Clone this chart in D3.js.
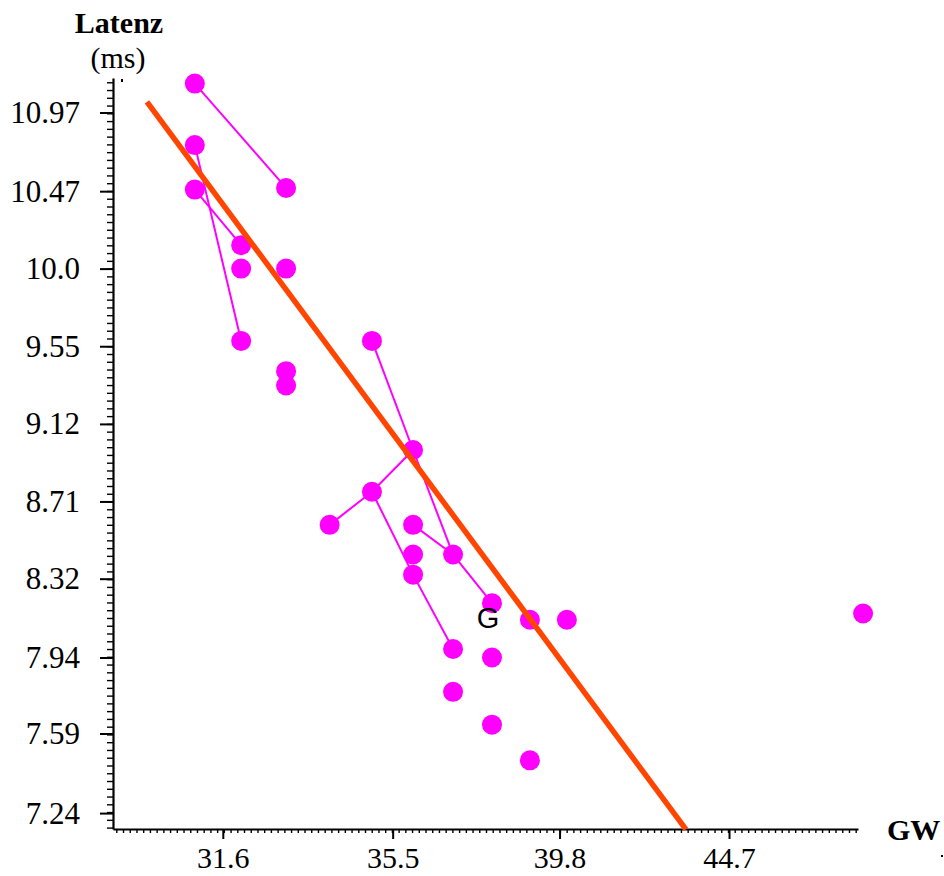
<!DOCTYPE html>
<html>
<head>
<meta charset="utf-8">
<script src="https://cdn.jsdelivr.net/npm/d3@7"></script>
<style>
  body { margin: 0; background: #fff; }
  svg { display: block; }
  .tick text { font-family: "Liberation Serif", "Times New Roman", serif; font-size: 31px; fill: #000; }
  .x-axis .tick text { font-size: 30px; }
</style>
</head>
<body>
<div id="main"></div>
<script>
// measured values: GW (x) and latency in ms (y)
var gw = [31, 31, 31, 33, 32, 32, 33, 32, 33, 33, 35, 36, 35, 34, 36, 36, 37, 36, 38, 39, 40, 49, 37, 38, 37, 38, 39];
var latenz = [11.16, 10.76, 10.48, 10.49, 10.14, 10.0, 10.0, 9.58, 9.41, 9.33, 9.58, 8.98, 8.76, 8.59, 8.59, 8.44, 8.44, 8.34, 8.20, 8.12, 8.12, 8.15, 7.98, 7.94, 7.78, 7.63, 7.47];
// pairs of point indices joined by a thin line
var links = [[0, 3], [1, 7], [2, 4], [10, 11], [11, 16], [13, 12], [12, 11], [12, 17], [17, 22], [14, 16], [16, 18]];
// regression line end points
var fitGW = [30, 43.4];
var fitLatenz = [11.04, 7.17];
var xTickLabels = ["31.6", "35.5", "39.8", "44.7"];
var yTickLabels = ["10.97", "10.47", "10.0", "9.55", "9.12", "8.71", "8.32", "7.94", "7.59", "7.24"];
var noteText = ["G"], noteGW = [37.9], noteLatenz = [8.08];

var W = 944, H = 876;
var margin = {top: 78, right: 86, bottom: 47, left: 113};

var svg = d3.select("#main").append("svg")
    .attr("width", W)
    .attr("height", H);

var x = d3.scaleLog().domain([29.31, 48.83]).range([margin.left, W - margin.right]);
var y = d3.scaleLog().domain([7.172, 11.197]).range([H - margin.bottom, margin.top]);

function minorTicks(scale, step) {
    var d = scale.domain().map(Math.log10);
    var lo = Math.ceil(d[0] / step - 1e-9), hi = Math.floor(d[1] / step + 1e-9);
    return d3.range(lo, hi + 1).map(k => Math.pow(10, k * step));
}

// minor ticks
svg.append("g")
    .attr("transform", "translate(0," + y.range()[0] + ")")
    .call(d3.axisBottom(x).tickValues(minorTicks(x, 0.002)).tickFormat("").tickSize(4).tickSizeOuter(0))
    .call(g => g.select(".domain").remove())
    .selectAll("line").attr("stroke-width", 1.4);

svg.append("g")
    .attr("transform", "translate(" + x.range()[0] + ",0)")
    .call(d3.axisLeft(y).tickValues(minorTicks(y, 0.002)).tickFormat("").tickSize(6).tickSizeOuter(0))
    .call(g => g.select(".domain").remove())
    .selectAll("line").attr("stroke-width", 1.4);

// major axes
var xAxis = svg.append("g")
    .attr("class", "x-axis")
    .attr("transform", "translate(0," + y.range()[0] + ")")
    .call(d3.axisBottom(x).tickValues(xTickLabels.map(Number)).tickFormat((d, i) => xTickLabels[i]).tickSize(10).tickPadding(8).tickSizeOuter(0));
xAxis.select(".domain").attr("stroke-width", 2.2);
xAxis.selectAll(".tick line").attr("stroke-width", 2);

var yAxis = svg.append("g")
    .attr("transform", "translate(" + x.range()[0] + ",0)")
    .call(d3.axisLeft(y).tickValues(yTickLabels.map(Number)).tickFormat((d, i) => yTickLabels[i]).tickSize(13).tickPadding(20).tickSizeOuter(0));
yAxis.select(".domain").attr("stroke-width", 2.2);
yAxis.selectAll(".tick line").attr("stroke-width", 2);

// axis titles
svg.append("text")
    .attr("x", 119).attr("y", 33)
    .attr("text-anchor", "middle")
    .style("font-family", "'Liberation Serif', serif").style("font-weight", "bold").style("font-size", "30px")
    .text("Latenz");
svg.append("text")
    .attr("x", 118).attr("y", 68)
    .attr("text-anchor", "middle")
    .style("font-family", "'Liberation Serif', serif").style("font-size", "30px")
    .text("(ms)");
svg.append("text")
    .attr("x", 887).attr("y", 840)
    .style("font-family", "'Liberation Serif', serif").style("font-weight", "bold").style("font-size", "30px")
    .text("GW");

// tiny marks at the axis ends
svg.append("rect").attr("x", x.range()[0] + 8).attr("y", y.range()[1] + 1).attr("width", 2).attr("height", 3).attr("fill", "#000");
svg.append("rect").attr("x", 941).attr("y", 855).attr("width", 2).attr("height", 2).attr("fill", "#000");

// connecting lines
svg.append("g").selectAll("line").data(links)
    .enter().append("line")
    .attr("x1", d => x(gw[d[0]])).attr("y1", d => y(latenz[d[0]]))
    .attr("x2", d => x(gw[d[1]])).attr("y2", d => y(latenz[d[1]]))
    .attr("stroke", "#ff00ff")
    .attr("stroke-width", 2);

// points
svg.append("g").selectAll("circle").data(gw)
    .enter().append("circle")
    .attr("cx", d => x(d))
    .attr("cy", (d, i) => y(latenz[i]))
    .attr("r", 10)
    .attr("fill", "#ff00ff");

// regression line
svg.append("line")
    .attr("x1", x(fitGW[0])).attr("y1", y(fitLatenz[0]))
    .attr("x2", x(fitGW[1])).attr("y2", y(fitLatenz[1]))
    .attr("stroke", "#ff4500")
    .attr("stroke-width", 5.5);

// annotation
svg.append("g").selectAll("text").data(noteText)
    .enter().append("text")
    .attr("x", (d, i) => x(noteGW[i]))
    .attr("y", (d, i) => y(noteLatenz[i]))
    .attr("text-anchor", "middle")
    .style("font-family", "'Liberation Sans', Arial, sans-serif").style("font-size", "29px")
    .text(d => d);
</script>
</body>
</html>
